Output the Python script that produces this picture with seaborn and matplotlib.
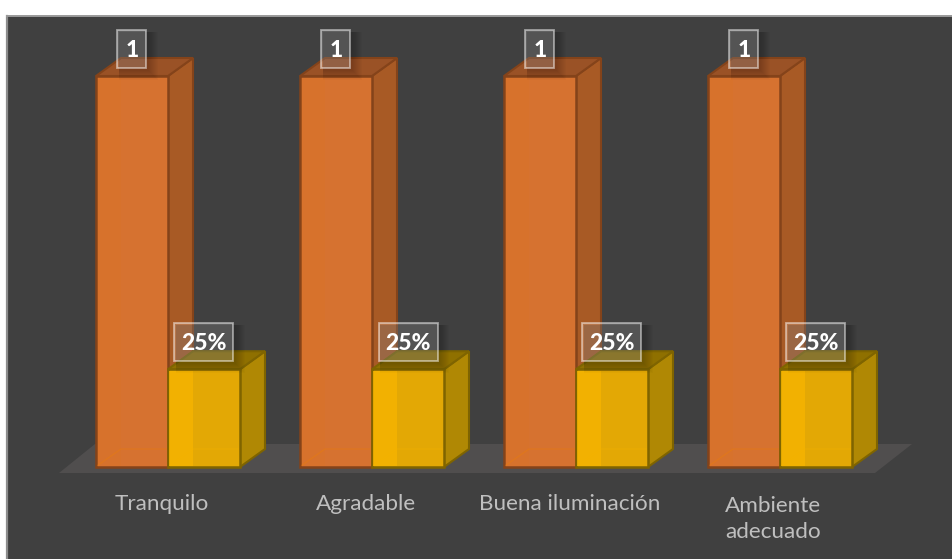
import numpy as np
import pandas as pd
import matplotlib
matplotlib.use("Agg")
import matplotlib.pyplot as plt
from matplotlib.patches import Polygon, Rectangle
import seaborn as sns

# ===============================
# Data
# ===============================
categories = ["Tranquilo", "Agradable", "Buena iluminación", "Ambiente\nadecuado"]
frecuencia = [1, 1, 1, 1]
porcentaje = [0.25, 0.25, 0.25, 0.25]
labels_frecuencia = ["1", "1", "1", "1"]
labels_porcentaje = ["25%", "25%", "25%", "25%"]

df = pd.DataFrame({
    "categoria": categories * 2,
    "valor": frecuencia + porcentaje,
    "serie": ["Frecuencia"] * 4 + ["Porcentaje"] * 4,
})

W, H = 952, 559
BG = "#404040"
PX_X = 204.0   # pixels per category
PX_Y = 391.0   # pixels per unit
X0, Y0 = 168.0, 467.0  # pixel of category 0 / value 0
DX = 25 / PX_X
DY = 18 / PX_Y


def px(x):
    return (x - X0) / PX_X


def py(y):
    return (Y0 - y) / PX_Y


sns.set_theme(style="white")
plt.rcParams["font.family"] = ["Lato", "DejaVu Sans"]

fig = plt.figure(figsize=(W / 100, H / 100), dpi=100, facecolor="white")
ax = fig.add_axes([7 / W, 0, (W - 7) / W, (H - 16) / H], facecolor=BG)

sns.barplot(data=df, x="categoria", y="valor", hue="serie",
            palette=["#D67230", "#E3A805"], width=144 / PX_X, gap=0,
            saturation=1, legend=False, ax=ax, zorder=3)

ax.set_xlim(px(7), px(W))
ax.set_ylim(py(H), py(16))
sns.despine(ax=ax, left=False, top=False, right=True, bottom=True)
ax.spines["left"].set_color("#8C8C8C")
ax.spines["left"].set_linewidth(1.6)
ax.spines["top"].set_color("#9A9A9A")
ax.spines["top"].set_linewidth(1.4)
ax.set_xlabel("")
ax.set_ylabel("")
ax.set_yticks([])
ax.set_xticks([])

# floor of the 3d chart
ax.add_patch(Polygon([(px(59), py(473)), (px(875), py(473)), (px(912), py(444)), (px(95), py(444))],
                     closed=True, fc="#504E4E", ec="none", zorder=1))

# 3d sides for each bar
styles = [("#A85A25", "#9A5226", "#84431A"), ("#B08804", "#8F7000", "#7F6400")]
bars = [b for b in ax.patches if isinstance(b, Rectangle) and b.get_height() > 0]
for i, bar in enumerate(bars):
    side, top, edge = styles[0] if i < 4 else styles[1]
    x, w, h = bar.get_x(), bar.get_width(), bar.get_height()
    bar.set_edgecolor(edge)
    bar.set_linewidth(1.8)
    z = 3 + (i % 4) * 0.1 + (0.05 if i >= 4 else 0)
    bar.set_zorder(z + 0.02)
    ax.add_patch(Polygon([(x + w, 0), (x + w + DX, DY), (x + w + DX, h + DY), (x + w, h)],
                         fc=side, ec=edge, lw=1.5, zorder=z))
    ax.add_patch(Polygon([(x, h), (x + DX, h + DY), (x + w + DX, h + DY), (x + w, h)],
                         fc=top, ec=edge, lw=1.5, zorder=z))
    # lighter band on the front, the back edges seen through
    inset = 1.5 / PX_X
    ax.add_patch(Rectangle((x + inset, 1.5 / PX_Y), DX - inset, h - 3 / PX_Y,
                           fc="#F08000" if i < 4 else "#F6B400",
                           alpha=0.07 if i < 4 else 0.8, ec="none", zorder=z + 0.03))
    ax.plot([x + inset, x + DX, x + w - inset], [1.5 / PX_Y, DY, DY],
            color="#F08000" if i < 4 else "#F6B400", alpha=0.3, lw=1, zorder=z + 0.03)

# category labels
for i, cat in enumerate(categories):
    if "\n" not in cat:
        ax.text(i - 0.03, py(504), cat, ha="center", va="center",
                color="#BFBFBF", fontsize=16.2, zorder=6)
    else:
        ax.text(px(725), py(519), cat, ha="left", va="center",
                color="#BFBFBF", fontsize=16.2, linespacing=1.42, zorder=6)

# data labels
BOX_H = 38
for i, bar in enumerate(bars):
    txt = (labels_frecuencia + labels_porcentaje)[i]
    box_w = 29 if i < 4 else 59
    cx = bar.get_x() + bar.get_width() / 2
    cy = bar.get_height() + 27 / PX_Y
    bw, bh = box_w / PX_X, BOX_H / PX_Y
    # soft shadow behind the box
    for grow in range(1, 11):
        ax.add_patch(Rectangle((cx - bw / 2 + 2 / PX_X, cy - bh / 2 - (grow + 2) / PX_Y),
                               bw + grow / PX_X, bh + grow / PX_Y,
                               fc="black", alpha=0.018, ec="none", zorder=7))
    ax.add_patch(Rectangle((cx - bw / 2, cy - bh / 2), bw, bh, fc=(1, 1, 1, 0.18),
                           ec=(1, 1, 1, 0.5), lw=1.3, zorder=7.5))
    ax.text(cx, cy - 1.5 / PX_Y, txt, ha="center", va="center",
            color="white", fontsize=16.5, fontweight="black", zorder=8)

fig.savefig("out.png", dpi=100, facecolor=fig.get_facecolor())
